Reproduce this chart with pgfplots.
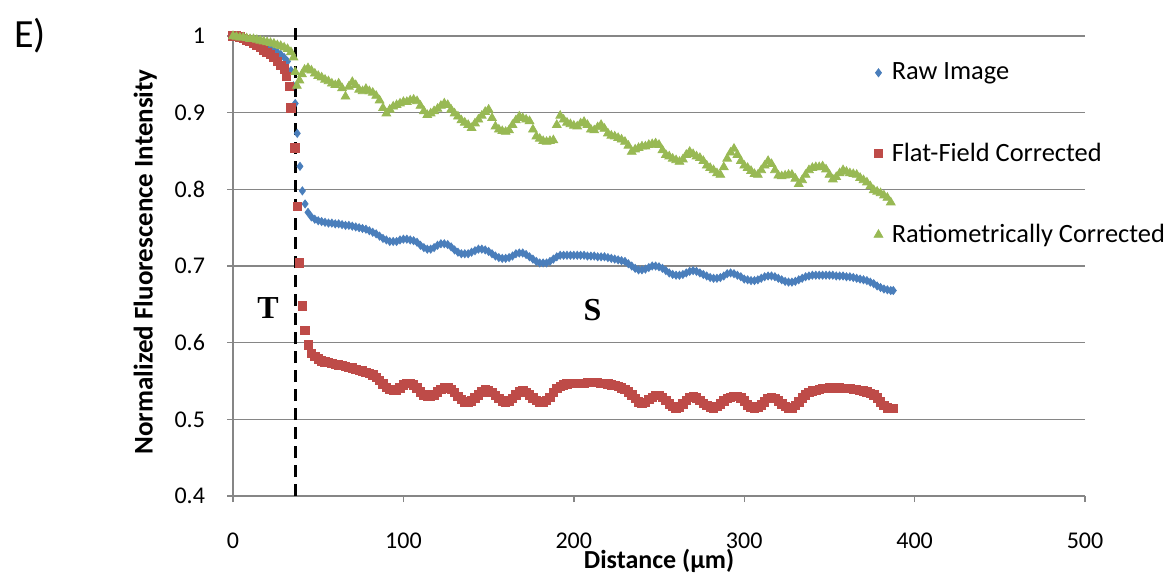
\documentclass[border=0pt]{standalone}
\usepackage{fontspec}
\setmainfont{Carlito}
\newfontfamily\timesfont{Liberation Serif}
\usepackage{pgfplots}
\pgfplotsset{compat=1.18}

\definecolor{rawblue}{HTML}{4A7EBB}
\definecolor{flatred}{HTML}{BE4B48}
\definecolor{ratiogreen}{HTML}{98B954}
\definecolor{gridgray}{HTML}{868686}

\begin{document}
\begin{tikzpicture}
\begin{axis}[
    scale only axis,
    width=426pt, height=230pt,
    xmin=0, xmax=500, ymin=0.4, ymax=1,
    xtick={0,100,...,500},
    ytick={0.4,0.5,...,1.0},
    axis lines=left,
    axis line style={-, draw=gridgray, line width=0.7pt},
    tick align=outside,
    major tick length=3pt,
    tick style={draw=gridgray, line width=0.7pt},
    ymajorgrids,
    grid style={draw=gridgray, line width=0.6pt},
    clip=false,
    /pgf/number format/assume math mode=true,
    ticklabel style={font=\fontsize{12}{14}\selectfont},
    yticklabel style={xshift=-7.5pt},
    xticklabel style={yshift=-12pt},
    xlabel={Distance (µm)},
    ylabel={Normalized Fluorescence Intensity},
    xlabel style={font=\fontsize{13}{15}\selectfont\bfseries, at={(rel axis cs:0.5,-0.141)}, anchor=center},
    ylabel style={font=\fontsize{13.5}{15}\selectfont\bfseries, at={(rel axis cs:-0.103,0.509)}, anchor=center},
    legend style={at={(rel axis cs:0.745,0.96)}, anchor=north west, draw=none, fill=none,
        font=\fontsize{13.2}{15}\selectfont, row sep=26pt, column sep=2.5pt},
    legend cell align=left,
]

% Raw Image
\addplot[only marks, mark=diamond*, mark size=2pt, color=rawblue] coordinates {
(0,1.000)(2,0.999)(4,0.998)(6,0.997)(8,0.996)(10,0.994)(12,0.993)(14,0.991)(16,0.989)(18,0.988)
(20,0.986)(22,0.984)(24,0.981)(26,0.979)(28,0.976)(30,0.972)(32,0.967)(34,0.955)(35.5,0.935)(36.5,0.912)
(37.7,0.873)(39.3,0.830)(40.7,0.798)(42.3,0.781)(44,0.770)(46,0.764)(48,0.761)(50,0.759)(52,0.758)(54,0.757)
(56,0.756)(58,0.756)(60,0.755)(62,0.755)(64,0.754)(66,0.753)(68,0.753)(70,0.752)(72,0.751)(74,0.750)
(76,0.749)(78,0.748)(80,0.746)(82,0.744)(84,0.742)(86,0.739)(88,0.736)(90,0.734)(92,0.732)(94,0.732)
(96,0.732)(98,0.734)(100,0.735)(102,0.735)(104,0.734)(106,0.733)(108,0.731)(110,0.727)(112,0.724)(114,0.722)
(116,0.722)(118,0.724)(120,0.727)(122,0.729)(124,0.729)(126,0.728)(128,0.725)(130,0.721)(132,0.718)(134,0.716)
(136,0.716)(138,0.716)(140,0.718)(142,0.720)(144,0.722)(146,0.722)(148,0.721)(150,0.719)(152,0.716)(154,0.713)
(156,0.711)(158,0.710)(160,0.710)(162,0.711)(164,0.713)(166,0.716)(168,0.717)(170,0.717)(172,0.715)(174,0.712)
(176,0.709)(178,0.706)(180,0.704)(182,0.704)(184,0.704)(186,0.706)(188,0.709)(190,0.712)(192,0.714)(194,0.714)
(196,0.714)(198,0.714)(200,0.714)(202,0.714)(204,0.714)(206,0.714)(208,0.713)(210,0.713)(212,0.713)(214,0.712)
(216,0.712)(218,0.712)(220,0.711)(222,0.710)(224,0.709)(226,0.708)(228,0.707)(230,0.706)(232,0.703)(234,0.700)
(236,0.697)(238,0.695)(240,0.695)(242,0.696)(244,0.698)(246,0.700)(248,0.700)(250,0.699)(252,0.697)(254,0.694)
(256,0.691)(258,0.689)(260,0.688)(262,0.688)(264,0.689)(266,0.691)(268,0.693)(270,0.694)(272,0.693)(274,0.691)
(276,0.689)(278,0.687)(280,0.685)(282,0.684)(284,0.684)(286,0.685)(288,0.687)(290,0.690)(292,0.691)(294,0.690)
(296,0.688)(298,0.686)(300,0.683)(302,0.682)(304,0.681)(306,0.681)(308,0.682)(310,0.684)(312,0.686)(314,0.687)
(316,0.687)(318,0.686)(320,0.684)(322,0.682)(324,0.680)(326,0.679)(328,0.679)(330,0.680)(332,0.682)(334,0.684)
(336,0.686)(338,0.687)(340,0.688)(342,0.688)(344,0.688)(346,0.688)(348,0.688)(350,0.688)(352,0.688)(354,0.687)
(356,0.687)(358,0.687)(360,0.686)(362,0.686)(364,0.685)(366,0.684)(368,0.683)(370,0.682)(372,0.681)(374,0.679)
(376,0.677)(378,0.674)(380,0.672)(382,0.670)(384,0.669)(386,0.668)(387.5,0.668)
};
\addlegendentry{Raw Image}

% Flat-Field Corrected
\addplot[only marks, mark=square*, mark size=2.1pt, color=flatred] coordinates {
(0,1.000)(2,1.000)(4,0.999)(6,0.997)(8,0.995)(10,0.993)(12,0.990)(14,0.988)(16,0.985)(18,0.982)
(20,0.979)(22,0.976)(24,0.972)(26,0.967)(28,0.962)(30,0.957)(31.5,0.947)(33,0.934)(34,0.906)(36.4,0.854)
(37.7,0.778)(38.9,0.704)(40.7,0.648)(42.3,0.616)(44.2,0.597)(46,0.586)(48,0.582)(50,0.579)(52,0.576)(54,0.575)
(56,0.574)(58,0.573)(60,0.572)(62,0.571)(64,0.570)(66,0.569)(68,0.568)(70,0.567)(72,0.565)(74,0.564)
(76,0.563)(78,0.561)(80,0.560)(82,0.558)(84,0.555)(86,0.551)(88,0.546)(90,0.542)(92,0.539)(94,0.538)
(96,0.538)(98,0.541)(100,0.545)(102,0.547)(104,0.547)(106,0.545)(108,0.541)(110,0.536)(112,0.532)(114,0.530)
(116,0.530)(118,0.532)(120,0.536)(122,0.539)(124,0.541)(126,0.541)(128,0.539)(130,0.535)(132,0.530)(134,0.526)
(136,0.523)(138,0.523)(140,0.524)(142,0.528)(144,0.532)(146,0.536)(148,0.539)(150,0.538)(152,0.535)(154,0.531)
(156,0.527)(158,0.524)(160,0.523)(162,0.524)(164,0.527)(166,0.532)(168,0.536)(170,0.537)(172,0.535)(174,0.532)
(176,0.528)(178,0.525)(180,0.523)(182,0.523)(184,0.525)(186,0.529)(188,0.535)(190,0.540)(192,0.543)(194,0.545)
(196,0.546)(198,0.547)(200,0.547)(202,0.547)(204,0.547)(206,0.547)(208,0.548)(210,0.548)(212,0.548)(214,0.548)
(216,0.547)(218,0.547)(220,0.546)(222,0.545)(224,0.544)(226,0.543)(228,0.541)(230,0.539)(232,0.536)(234,0.532)
(236,0.527)(238,0.523)(240,0.521)(242,0.522)(244,0.526)(246,0.529)(248,0.531)(250,0.531)(252,0.529)(254,0.525)
(256,0.520)(258,0.517)(260,0.515)(262,0.516)(264,0.520)(266,0.525)(268,0.529)(270,0.530)(272,0.528)(274,0.525)
(276,0.521)(278,0.518)(280,0.516)(282,0.515)(284,0.517)(286,0.520)(288,0.524)(290,0.527)(292,0.529)(294,0.530)
(296,0.530)(298,0.528)(300,0.524)(302,0.519)(304,0.516)(306,0.515)(308,0.516)(310,0.519)(312,0.523)(314,0.527)
(316,0.528)(318,0.527)(320,0.524)(322,0.520)(324,0.517)(326,0.515)(328,0.515)(330,0.518)(332,0.523)(334,0.528)
(336,0.532)(338,0.535)(340,0.537)(342,0.538)(344,0.539)(346,0.540)(348,0.540)(350,0.541)(352,0.541)(354,0.541)
(356,0.541)(358,0.540)(360,0.540)(362,0.540)(364,0.539)(366,0.539)(368,0.538)(370,0.537)(372,0.536)(374,0.534)
(376,0.532)(378,0.528)(380,0.523)(382,0.518)(384,0.515)(386,0.514)(387.5,0.514)
};
\addlegendentry{Flat-Field Corrected}

% Ratiometrically Corrected
\addplot[only marks, mark=triangle*, mark size=2.5pt, color=ratiogreen] coordinates {
(0,1.000)(2,0.999)(4,0.998)(6,0.998)(8,0.997)(10,0.996)(12,0.996)(14,0.995)(16,0.994)(18,0.993)
(20,0.992)(22,0.991)(24,0.990)(26,0.988)(28,0.987)(30,0.985)(32,0.983)(34,0.979)(35.5,0.972)(36.5,0.953)
(37.5,0.935)(39,0.942)(40.5,0.950)(42,0.956)(44,0.958)(46,0.955)(48,0.951)(50,0.948)(52,0.946)(54,0.943)
(56,0.941)(58,0.938)(60,0.936)(62,0.938)(64,0.932)(66,0.921)(68,0.934)(70,0.940)(72,0.936)(74,0.930)
(76,0.928)(78,0.931)(80,0.928)(82,0.926)(84,0.922)(86,0.916)(88,0.906)(90,0.899)(92,0.904)(94,0.908)
(96,0.910)(98,0.912)(100,0.914)(102,0.914)(104,0.916)(106,0.917)(108,0.915)(110,0.909)(112,0.902)(114,0.897)
(116,0.899)(118,0.902)(120,0.905)(122,0.909)(124,0.912)(126,0.910)(128,0.904)(130,0.899)(132,0.895)(134,0.890)
(136,0.887)(138,0.884)(140,0.880)(142,0.886)(144,0.891)(146,0.896)(148,0.901)(150,0.904)(152,0.893)(154,0.882)
(156,0.878)(158,0.876)(160,0.875)(162,0.877)(164,0.884)(166,0.890)(168,0.895)(170,0.893)(172,0.891)(174,0.889)
(176,0.878)(178,0.869)(180,0.866)(182,0.863)(184,0.862)(186,0.863)(188,0.864)(190,0.884)(192,0.896)(194,0.891)
(196,0.887)(198,0.885)(200,0.883)(202,0.882)(204,0.886)(206,0.888)(208,0.884)(210,0.878)(212,0.877)(214,0.881)
(216,0.884)(218,0.879)(220,0.873)(222,0.870)(224,0.869)(226,0.867)(228,0.865)(230,0.862)(232,0.857)(234,0.849)
(236,0.852)(238,0.854)(240,0.856)(242,0.856)(244,0.858)(246,0.859)(248,0.860)(250,0.858)(252,0.851)(254,0.845)
(256,0.843)(258,0.840)(260,0.838)(262,0.836)(264,0.839)(266,0.845)(268,0.849)(270,0.846)(272,0.843)(274,0.841)
(276,0.837)(278,0.831)(280,0.828)(282,0.825)(284,0.821)(286,0.819)(288,0.829)(290,0.840)(292,0.848)(294,0.853)
(296,0.845)(298,0.837)(300,0.831)(302,0.828)(304,0.824)(306,0.820)(308,0.819)(310,0.825)(312,0.831)(314,0.837)
(316,0.833)(318,0.825)(320,0.818)(322,0.817)(324,0.818)(326,0.819)(328,0.819)(330,0.814)(332,0.807)(334,0.812)
(336,0.819)(338,0.825)(340,0.828)(342,0.829)(344,0.829)(346,0.830)(348,0.826)(350,0.819)(352,0.813)(354,0.816)
(356,0.821)(358,0.825)(360,0.823)(362,0.821)(364,0.820)(366,0.819)(368,0.815)(370,0.812)(372,0.809)(374,0.804)
(376,0.799)(378,0.797)(380,0.795)(382,0.792)(384,0.789)(386,0.783)
};
\addlegendentry{Ratiometrically Corrected}

% transition marker and region labels
\draw[black, line width=1.5pt, dash pattern=on 6pt off 3.5pt] (axis cs:36.4,0.4) -- (axis cs:36.4,1.01);
\node[font=\timesfont\bfseries\fontsize{16}{18}\selectfont] at (axis cs:20.5,0.645) {T};
\node[font=\timesfont\bfseries\fontsize{16}{18}\selectfont] at (axis cs:211,0.643) {S};
\node[font=\fontsize{20}{22}\selectfont, anchor=center] at (rel axis cs:-0.238,1.0) {E)};

\coordinate (bbsw) at (rel axis cs:-0.2735,-0.1739);
\coordinate (bbne) at (rel axis cs:1.0974,1.0783);
\end{axis}
\pgfresetboundingbox
\path (bbsw) rectangle (bbne);
\end{tikzpicture}
\end{document}
